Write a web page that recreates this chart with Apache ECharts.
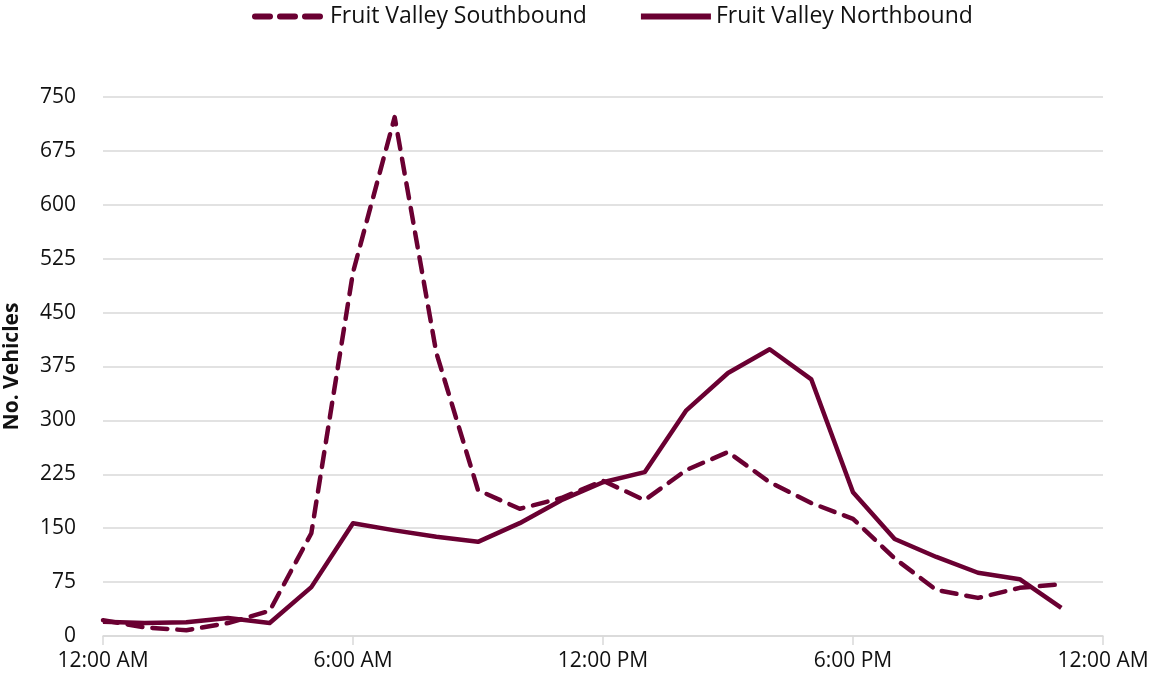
<!DOCTYPE html>
<html>
<head>
<meta charset="utf-8">
<script src="https://cdn.jsdelivr.net/npm/echarts@6/dist/echarts.min.js"></script>
<style>html,body{margin:0;padding:0;background:#fff}#c{width:1155px;height:683px}</style>
</head>
<body>
<div id="c"></div>
<script>
const hours = [0,1,2,3,4,5,6,7,8,9,10,11,12,13,14,15,16,17,18,19,20,21,22,23];
const southbound = [22,12,8,18,35,143,506,722,394,203,177,192,216,189,231,256,214,185,163,108,64,53,67,72];
const northbound = [20,18,19,25,18,68,157,147,138,131,157,189,214,228,314,366,399,357,200,135,110,88,79,39];
const xTickLabels = ['12:00 AM','6:00 AM','12:00 PM','6:00 PM','12:00 AM'];

const color = '#6A0032';
const font = '"Open Sans", sans-serif';
const chart = echarts.init(document.getElementById('c'));
chart.setOption({
  animation: false,
  grid: {left: 103, right: 52, top: 97, bottom: 47, containLabel: false, outerBoundsMode: 'none'},
  legend: {
    top: 0, left: 247,
    itemWidth: 70, itemHeight: 14, itemGap: 51,
    itemStyle: {opacity: 0},
    lineStyle: {width: 6},
    textStyle: {fontFamily: font, fontSize: 23, color: '#111'},
    data: ['Fruit Valley Southbound','Fruit Valley Northbound']
  },
  xAxis: {
    type: 'value', min: 0, max: 24, interval: 6,
    axisLine: {show: true, lineStyle: {color: '#d9d9d9', width: 1.5}},
    axisTick: {show: true, length: 9, lineStyle: {color: '#d9d9d9', width: 1.5}},
    splitLine: {show: false},
    axisLabel: {
      fontFamily: font, fontSize: 21, color: '#111', margin: 15,
      formatter: v => xTickLabels[v / 6]
    }
  },
  yAxis: {
    type: 'value', min: 0, max: 750, interval: 75,
    name: 'No. Vehicles', nameLocation: 'middle', nameGap: 80,
    nameTextStyle: {fontFamily: font, fontSize: 21, fontWeight: 'bold', color: '#111'},
    axisLine: {show: false},
    axisTick: {show: false},
    splitLine: {lineStyle: {color: '#d9d9d9', width: 1.5}},
    axisLabel: {fontFamily: font, fontSize: 21, color: '#111', margin: 27}
  },
  series: [
    {
      name: 'Fruit Valley Southbound', type: 'line', symbol: 'none',
      data: hours.map((h, i) => [h, southbound[i]]),
      itemStyle: {color: color},
      lineStyle: {color: color, width: 4.5, type: [15, 10], cap: 'round', join: 'round'}
    },
    {
      name: 'Fruit Valley Northbound', type: 'line', symbol: 'none',
      data: hours.map((h, i) => [h, northbound[i]]),
      itemStyle: {color: color},
      lineStyle: {color: color, width: 4.5, type: 'solid', join: 'round'}
    }
  ]
});
</script>
</body>
</html>
